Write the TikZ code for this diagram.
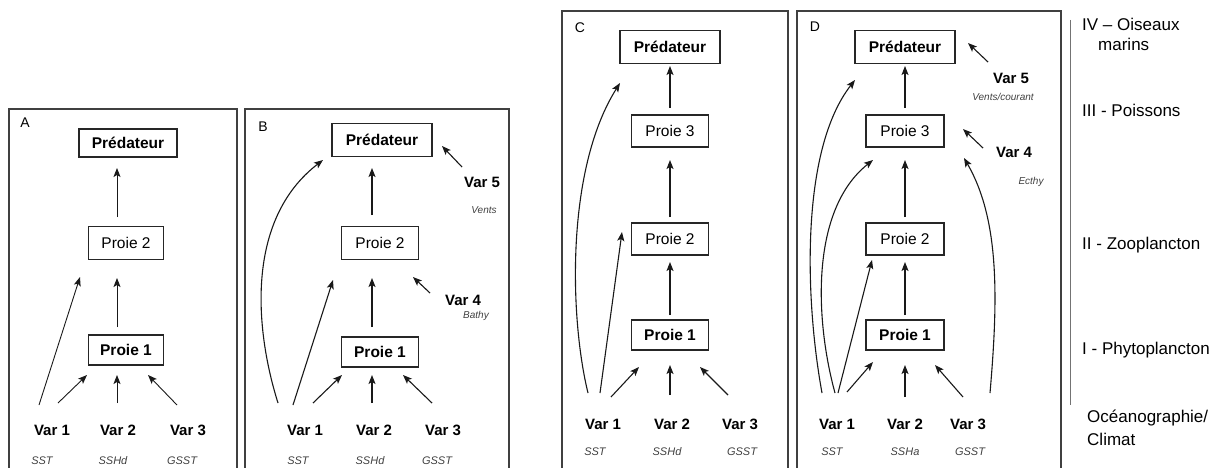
\documentclass[tikz,border=0pt]{standalone}
\usepackage{fontspec}
\setmainfont{Liberation Sans}
\usetikzlibrary{arrows.meta}
\tikzset{
  frame/.style={draw=black!75, line width=1.6pt},
  sep/.style={draw=black!55, line width=0.8pt},
  box/.style={draw=black!85, line width=1.2pt, inner sep=0pt, minimum height=32pt, minimum width=77pt},
  bbox/.style={box, font=\fontsize{15.5}{17}\selectfont\bfseries},
  rbox/.style={box, font=\fontsize{15.5}{17}\selectfont},
  pred/.style={bbox, minimum width=100pt, minimum height=33pt},
  var/.style={inner sep=0pt, font=\fontsize{15}{17}\selectfont\bfseries},
  sub/.style={inner sep=0pt, text=black!75, font=\fontsize{11}{13}\selectfont\itshape},
  tiny/.style={inner sep=0pt, text=black!75, font=\fontsize{10}{12}\selectfont\itshape},
  lab/.style={inner sep=0pt, font=\fontsize{14}{16}\selectfont},
  lvl/.style={inner sep=0pt, anchor=west, font=\fontsize{17}{19}\selectfont},
  arr/.style={-{Stealth[length=9pt,width=7pt,inset=2pt]}, line width=1.1pt, black!90},
}
\begin{document}
\begin{tikzpicture}[x=1pt,y=-1pt]
\useasboundingbox (0,0) rectangle (1217,468);
% frames
\draw[frame] (9,468) |- (237,109) -- (237,468);
\draw[frame] (245,468) |- (509,109) -- (509,468);
\draw[frame] (562,468) |- (788,11) -- (788,468);
\draw[frame] (797,468) |- (1061,11) -- (1061,468);
\coordinate (sepT) at (1070,20);
\coordinate (sepB) at (1070,405);
\draw[sep] (sepT) -- (sepB);

% ---------- Panel A ----------
\node[lab] (labA) at (25,123) {A};
\node[pred, minimum width=98pt, minimum height=28pt] (PredA) at (128,143) {Prédateur};
\node[rbox, minimum width=75pt, minimum height=33pt] (P2A) at (126,243) {Proie 2};
\node[bbox, minimum width=75pt, minimum height=30pt] (P1A) at (126,350) {Proie 1};
\node[var] (V1A) at (52,430) {Var 1};
\node[var] (V2A) at (118,430) {Var 2};
\node[var] (V3A) at (188,430) {Var 3};
\node[sub] (sA1) at (42,461) {SST};
\node[sub] (sA2) at (113,461) {SSHd};
\node[sub] (sA3) at (182,461) {GSST};
\draw[arr, line width=0.9pt] ([shift={(-13,-25)}]V1A.center) -- ([shift={(-46,34)}]P2A.center);
\draw[arr, line width=0.9pt] ([shift={(6,-27)}]V1A.center) -- ([shift={(-39,25)}]P1A.center);
\draw[arr, line width=0.9pt] ([shift={(-1,-27)}]V2A.center) -- ([shift={(-9,25)}]P1A.center);
\draw[arr, line width=0.9pt] ([shift={(-11,-25)}]V3A.center) -- ([shift={(22,25)}]P1A.center);
\draw[arr, line width=0.9pt] ([shift={(-9,-23)}]P1A.center) -- ([shift={(-9,35)}]P2A.center);
\draw[arr, line width=0.9pt] ([shift={(-9,-26)}]P2A.center) -- ([shift={(-11,25)}]PredA.center);

% ---------- Panel B ----------
\node[lab] (labB) at (263,127) {B};
\node[pred] (PredB) at (382,140) {Prédateur};
\node[rbox, minimum height=33pt] (P2B) at (380,243) {Proie 2};
\node[bbox, minimum height=30pt] (P1B) at (380,352) {Proie 1};
\node[var] (V1B) at (305,430) {Var 1};
\node[var] (V2B) at (374,430) {Var 2};
\node[var] (V3B) at (443,430) {Var 3};
\node[sub] (sB1) at (298,461) {SST};
\node[sub] (sB2) at (370,461) {SSHd};
\node[sub] (sB3) at (437,461) {GSST};
\node[var] (V4B) at (463,300) {Var 4};
\node[tiny] (bB) at (476,316) {Bathy};
\node[var] (V5B) at (482,182) {Var 5};
\node[tiny] (wB) at (484,210) {Vents};
\draw[arr] ([shift={(-27,-27)}]V1B.center) .. controls +(-23,-73) and +(-78,60) .. ([shift={(-59,20)}]PredB.center);
\draw[arr] ([shift={(-12,-25)}]V1B.center) -- ([shift={(-47,37)}]P2B.center);
\draw[arr] ([shift={(8,-27)}]V1B.center) -- ([shift={(-38,23)}]P1B.center);
\draw[arr] ([shift={(-2,-27)}]V2B.center) -- ([shift={(-8,23)}]P1B.center);
\draw[arr] ([shift={(-11,-27)}]V3B.center) -- ([shift={(23,23)}]P1B.center);
\draw[arr] ([shift={(-8,-25)}]P1B.center) -- ([shift={(-8,35)}]P2B.center);
\draw[arr] ([shift={(-8,-28)}]P2B.center) -- ([shift={(-10,28)}]PredB.center);
\draw[arr] ([shift={(-20,-15)}]V5B.center) -- ([shift={(60,6)}]PredB.center);
\draw[arr] ([shift={(-33,-7)}]V4B.center) -- ([shift={(33,34)}]P2B.center);

% ---------- Panel C ----------
\node[lab] (labC) at (580,28) {C};
\node[pred] (PredC) at (670,47) {Prédateur};
\node[rbox] (P3C) at (670,131) {Proie 3};
\node[rbox] (P2C) at (670,239) {Proie 2};
\node[bbox, minimum height=30pt] (P1C) at (670,335) {Proie 1};
\node[var] (V1C) at (603,424) {Var 1};
\node[var] (V2C) at (672,424) {Var 2};
\node[var] (V3C) at (740,424) {Var 3};
\node[sub] (sC1) at (595,452) {SST};
\node[sub] (sC2) at (667,452) {SSHd};
\node[sub] (sC3) at (742,452) {GSST};
\draw[arr] ([shift={(-15,-31)}]V1C.center) .. controls +(-18,-73) and +(-55,87) .. ([shift={(-50,36)}]PredC.center);
\draw[arr] ([shift={(-3,-31)}]V1C.center) -- ([shift={(-48,-7)}]P2C.center);
\draw[arr] ([shift={(8,-27)}]V1C.center) -- ([shift={(-31,32)}]P1C.center);
\draw[arr] ([shift={(-2,-29)}]V2C.center) -- ([shift={(0,30)}]P1C.center);
\draw[arr] ([shift={(-12,-29)}]V3C.center) -- ([shift={(30,32)}]P1C.center);
\draw[arr] ([shift={(0,-20)}]P1C.center) -- ([shift={(0,23)}]P2C.center);
\draw[arr] ([shift={(0,-22)}]P2C.center) -- ([shift={(0,29)}]P3C.center);
\draw[arr] ([shift={(0,-23)}]P3C.center) -- ([shift={(0,19)}]PredC.center);

% ---------- Panel D ----------
\node[lab] (labD) at (815,27) {D};
\node[pred] (PredD) at (905,47) {Prédateur};
\node[rbox, minimum width=78pt] (P3D) at (905,131) {Proie 3};
\node[rbox, minimum width=78pt] (P2D) at (905,239) {Proie 2};
\node[bbox, minimum width=78pt, minimum height=30pt] (P1D) at (905,335) {Proie 1};
\node[var] (V1D) at (837,424) {Var 1};
\node[var] (V2D) at (905,424) {Var 2};
\node[var] (V3D) at (968,424) {Var 3};
\node[sub] (sD1) at (832,452) {SST};
\node[sub] (sD2) at (905,452) {SSHa};
\node[sub] (sD3) at (970,452) {GSST};
\node[var] (V5D) at (1011,78) {Var 5};
\node[tiny] (wD) at (1003,97) {Vents/courant};
\node[var] (V4D) at (1014,152) {Var 4};
\node[tiny] (eD) at (1031,182) {Ecthy};
\draw[arr] ([shift={(-15,-31)}]V1D.center) .. controls +(-17,-93) and +(-55,70) .. ([shift={(-50,33)}]PredD.center);
\draw[arr] ([shift={(-2,-31)}]V1D.center) .. controls +(-20,-73) and +(-63,50) .. ([shift={(-32,29)}]P3D.center);
\draw[arr] ([shift={(1,-31)}]V1D.center) -- ([shift={(-33,21)}]P2D.center);
\draw[arr] ([shift={(10,-32)}]V1D.center) -- ([shift={(-32,27)}]P1D.center);
\draw[arr] ([shift={(0,-27)}]V2D.center) -- ([shift={(0,30)}]P1D.center);
\draw[arr] ([shift={(-5,-27)}]V3D.center) -- ([shift={(30,30)}]P1D.center);
\draw[arr] ([shift={(22,-31)}]V3D.center) .. controls +(8,-93) and +(36,62) .. ([shift={(59,27)}]P3D.center);
\draw[arr] ([shift={(0,-20)}]P1D.center) -- ([shift={(0,23)}]P2D.center);
\draw[arr] ([shift={(0,-22)}]P2D.center) -- ([shift={(0,29)}]P3D.center);
\draw[arr] ([shift={(0,-23)}]P3D.center) -- ([shift={(0,19)}]PredD.center);
\draw[arr] ([shift={(-23,-16)}]V5D.center) -- ([shift={(63,-4)}]PredD.center);
\draw[arr] ([shift={(-31,-4)}]V4D.center) -- ([shift={(58,-2)}]P3D.center);

% ---------- Levels ----------
\node[lvl] (r4a) at (1082,24) {IV – Oiseaux};
\node[lvl] (r4b) at (1098,44) {marins};
\node[lvl] (r3) at (1082,110) {III - Poissons};
\node[lvl] (r2) at (1082,245) {II - Zooplancton};
\node[lvl] (r1) at (1082,350) {I - Phytoplancton};
\node[lvl] (r0a) at (1087,418) {Océanographie/};
\node[lvl] (r0b) at (1087,439) {Climat};
\end{tikzpicture}
\end{document}
